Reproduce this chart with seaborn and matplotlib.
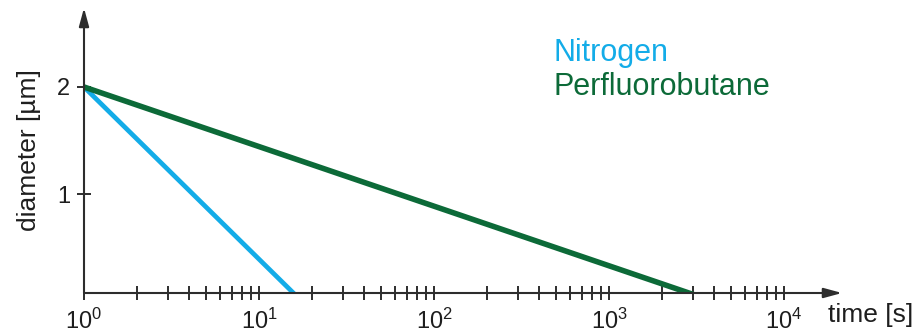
import numpy as np
import pandas as pd
import matplotlib
matplotlib.use("Agg")
import matplotlib.pyplot as plt
import seaborn as sns

# ---- data ----
gases = ["Nitrogen", "Perfluorobutane"]
nitrogen_time = [1, 17.5]          # s
nitrogen_diam = [2.0, 0.0]         # µm
perfluoro_time = [1, 3900]         # s
perfluoro_diam = [2.0, 0.0]        # µm
x_major = [1, 10, 100, 1000, 10000]
x_major_labels = [r"$\mathregular{10^{0}}$", r"$\mathregular{10^{1}}$", r"$\mathregular{10^{2}}$",
                  r"$\mathregular{10^{3}}$", r"$\mathregular{10^{4}}$"]
y_ticks = [1, 2]
y_tick_labels = ["1", "2"]
colors = {"Nitrogen": "#13ACE8", "Perfluorobutane": "#0C6A38"}

df = pd.DataFrame({
    "time": nitrogen_time + perfluoro_time,
    "diameter": nitrogen_diam + perfluoro_diam,
    "gas": [gases[0]] * len(nitrogen_time) + [gases[1]] * len(perfluoro_time),
})

sns.set_style("white")
plt.rcParams["font.family"] = ["Liberation Sans", "DejaVu Sans"]
plt.rcParams["mathtext.fontset"] = "custom"
plt.rcParams["mathtext.rm"] = "Liberation Sans"
plt.rcParams["mathtext.it"] = "Liberation Sans:italic"
plt.rcParams["mathtext.bf"] = "Liberation Sans:bold"

axis_col = "#2d2d2d"
text_col = "#1e1e1e"

fig = plt.figure(figsize=(9.17, 3.34), dpi=100)
W, H = 917, 334
left, right, bottom, top = 84, 842, 293, 8
ax = fig.add_axes([left / W, 1 - bottom / H, (right - left) / W, (bottom - top) / H])

sns.lineplot(data=df, x="time", y="diameter", hue="gas", palette=colors,
             legend=False, ax=ax, linewidth=4.0, solid_capstyle="butt")
ax.lines[0].set_linewidth(3.4)

ax.set_xscale("log")
ax.set_xlim(1, 10 ** 4.331)
ax.set_ylim(0.075, 2.738)

ax.set_xticks(x_major)
ax.set_xticklabels(x_major_labels)
minor = [m * 10 ** k for k in range(4) for m in range(2, 10)]
ax.set_xticks(minor, minor=True)
ax.set_xticklabels([], minor=True)
ax.set_yticks(y_ticks)
ax.set_yticklabels(y_tick_labels)

ax.tick_params(axis="x", which="both", direction="inout", length=10, width=1.4,
               color=axis_col, labelsize=17, labelcolor=text_col, pad=6, bottom=True)
ax.tick_params(axis="y", which="both", direction="inout", length=10, width=1.4,
               color=axis_col, labelsize=17, labelcolor=text_col, pad=5, left=True)

for s in ax.spines.values():
    s.set_visible(False)

arrow = dict(arrowstyle="-|>,head_length=1.1,head_width=0.3", color=axis_col,
             lw=1.5, mutation_scale=10, shrinkA=0, shrinkB=0)
ax.annotate("", xy=(1, 0), xytext=(0, 0), xycoords="axes fraction",
            textcoords="axes fraction", arrowprops=arrow, annotation_clip=False)
ax.annotate("", xy=(0, 1), xytext=(0, 0), xycoords="axes fraction",
            textcoords="axes fraction", arrowprops=arrow, annotation_clip=False)

ax.set_ylabel("diameter [µm]", fontsize=19, color=text_col)
ax.yaxis.set_label_coords(-0.057, 0.5)
ax.set_xlabel("time [s]", fontsize=19, color=text_col, ha="left", va="top")
ax.xaxis.set_label_coords(0.9815, -0.035)

ax.text(0.619, 0.814, gases[0], transform=ax.transAxes, fontsize=22,
        color=colors["Nitrogen"], va="baseline", ha="left")
ax.text(0.619, 0.695, gases[1], transform=ax.transAxes, fontsize=22,
        color=colors["Perfluorobutane"], va="baseline", ha="left")

fig.savefig("out.png", dpi=100)
